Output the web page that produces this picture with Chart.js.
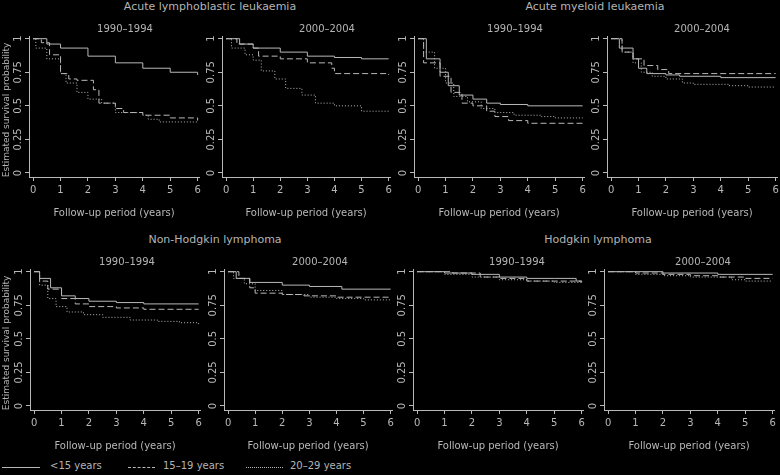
<!DOCTYPE html>
<html><head><meta charset="utf-8">
<script src="https://cdn.jsdelivr.net/npm/chart.js@4"></script>
<style>
body{margin:0;background:#000;width:780px;height:475px;position:relative;overflow:hidden;font-family:"DejaVu Sans",sans-serif;color:#b4b4b4}
canvas{position:absolute}
.t{position:absolute;font-size:11px;white-space:nowrap;transform:translateX(-50%)}
.s{position:absolute;font-size:10px;white-space:nowrap;transform:translateX(-50%)}
.yl{position:absolute;font-size:9px;white-space:nowrap;transform:translate(-50%,-50%) rotate(-90deg)}
.lg{position:absolute;top:467px;height:0}
.lt{position:absolute;top:460px;font-size:10px}
</style></head><body>
<script>
const xTicks=[0,1,2,3,4,5,6];
const yTicks=[0,0.25,0.5,0.75,1];
const seriesNames=['<15 years','15–19 years','20–29 years'];
// each: [x,y] step points, order: <15, 15-19, 20-29
const all90_u15=[[0,1],[0.5,0.96],[1,0.93],[2,0.87],[3,0.82],[4,0.78],[5,0.75],[6,0.73]];
const all90_1519=[[0,1],[0.3,0.97],[0.6,0.88],[1,0.74],[1.3,0.7],[1.6,0.69],[2.2,0.62],[2.4,0.52],[3,0.48],[3.3,0.45],[4,0.43],[5,0.41],[6,0.39]];
const all90_2029=[[0,1],[0.1,0.93],[0.5,0.85],[1,0.74],[1.2,0.67],[1.6,0.6],[2,0.55],[2.5,0.52],[3,0.45],[4,0.43],[4.2,0.4],[4.6,0.38],[6,0.38]];
const all00_u15=[[0,1],[0.5,0.96],[1,0.93],[2,0.9],[3,0.87],[4,0.86],[5,0.85],[6,0.85]];
const all00_1519=[[0,1],[0.4,0.96],[1,0.93],[1.2,0.87],[2,0.85],[3,0.82],[3.9,0.78],[4,0.74],[6,0.73]];
const all00_2029=[[0,1],[0.2,0.93],[0.7,0.88],[1,0.84],[1.3,0.76],[1.8,0.7],[2.2,0.63],[2.8,0.58],[3.3,0.52],[4,0.5],[5,0.46],[6,0.46]];
const aml90_u15=[[0,1],[0.3,0.85],[0.8,0.75],[1.1,0.65],[1.5,0.58],[2,0.55],[2.5,0.52],[3,0.51],[4,0.5],[6,0.5]];
const aml90_1519=[[0,1],[0.2,0.82],[0.8,0.72],[1.2,0.6],[1.6,0.52],[2,0.5],[2.5,0.46],[2.8,0.42],[3.3,0.39],[4,0.37],[6,0.37]];
const aml90_2029=[[0,1],[0.2,0.9],[0.6,0.78],[1,0.67],[1.3,0.57],[1.8,0.53],[2.3,0.48],[2.8,0.45],[3.5,0.43],[4.5,0.42],[5,0.41],[6,0.41]];
const aml00_u15=[[0,1],[0.3,0.93],[0.8,0.85],[1,0.78],[1.3,0.74],[2,0.73],[2.5,0.72],[4,0.71],[6,0.71]];
const aml00_1519=[[0,1],[0.4,0.9],[0.8,0.85],[1.2,0.8],[1.7,0.77],[2.1,0.74],[6,0.74]];
const aml00_2029=[[0,1],[0.4,0.9],[0.8,0.82],[1.1,0.75],[1.5,0.72],[2,0.7],[2.6,0.67],[3,0.66],[4.3,0.65],[5,0.64],[6,0.64]];
const nhl90_u15=[[0,1],[0.2,0.95],[0.6,0.88],[1,0.82],[1.5,0.8],[2,0.78],[3,0.77],[4,0.76],[6,0.76]];
const nhl90_1519=[[0,1],[0.2,0.93],[0.5,0.87],[1,0.8],[1.5,0.76],[2,0.74],[3,0.73],[4,0.72],[6,0.72]];
const nhl90_2029=[[0,1],[0.2,0.9],[0.5,0.8],[0.8,0.74],[1.2,0.7],[1.8,0.68],[2.5,0.66],[3.5,0.64],[4.5,0.63],[5.3,0.62],[6,0.61]];
const nhl00_u15=[[0,1],[0.3,0.95],[0.8,0.92],[2,0.9],[3,0.89],[4.2,0.87],[6,0.87]];
const nhl00_1519=[[0,1],[0.4,0.95],[0.8,0.88],[1,0.84],[2,0.83],[2.8,0.82],[4,0.81],[6,0.81]];
const nhl00_2029=[[0,1],[0.2,0.95],[0.6,0.91],[1,0.86],[2,0.83],[3,0.81],[4,0.8],[5,0.79],[6,0.79]];
const hl90_u15=[[0,1],[1,0.99],[2,0.98],[3,0.96],[4,0.95],[5,0.95],[5.8,0.93],[6,0.93]];
const hl90_1519=[[0,1],[1.3,0.99],[2.3,0.96],[3,0.95],[4,0.93],[5,0.93],[6,0.92]];
const hl90_2029=[[0,1],[1,0.98],[2,0.96],[3,0.94],[4,0.93],[5,0.92],[6,0.92]];
const hl00_u15=[[0,1],[2,0.99],[4,0.98],[6,0.98]];
const hl00_1519=[[0,1],[1,0.99],[2,0.98],[3,0.97],[4,0.96],[5,0.95],[6,0.95]];
const hl00_2029=[[0,1],[1,0.98],[2,0.97],[3,0.96],[4.5,0.94],[5,0.93],[6,0.93]];

const C='#b8b8b8';
const dashes=[[],[6,3],[1,2]];
const rotY={id:'rotY',afterDraw(ch){const s=ch.scales.y,c=ch.ctx;c.save();c.fillStyle=C;c.font='10px "DejaVu Sans"';c.textAlign='center';c.textBaseline='middle';
 yTicks.forEach(v=>{c.save();c.translate(s.right-11,s.getPixelForValue(v));c.rotate(-Math.PI/2);c.fillText(String(v),0,0);c.restore();});c.restore();}};
function panel(axisX,top,right,sets){
 const cv=document.createElement('canvas');const W=right-axisX+36,H=4+141+44;
 cv.width=W;cv.height=H;cv.style.left=(axisX-30)+'px';cv.style.top=(top-4)+'px';cv.style.width=W+'px';cv.style.height=H+'px';
 document.body.appendChild(cv);
 new Chart(cv,{type:'line',data:{datasets:sets.map((d,i)=>({label:seriesNames[i],data:d.map(p=>({x:p[0],y:p[1]})),stepped:true,borderColor:C,borderWidth:1,borderDash:dashes[i],pointRadius:0,fill:false}))},
 options:{responsive:false,animation:false,devicePixelRatio:1,layout:{padding:{top:4,right:6,left:0,bottom:0}},
  plugins:{legend:{display:false},tooltip:{enabled:false}},
  scales:{x:{type:'linear',min:-0.15,max:6.05,afterBuildTicks(s){s.ticks=xTicks.map(v=>({value:v}))},afterFit(s){s.height=44},
   grid:{drawOnChartArea:false,tickLength:4,color:C},border:{color:C},ticks:{color:C,font:{size:10,family:'DejaVu Sans'},padding:3,maxRotation:0},
   title:{display:true,text:'Follow-up period (years)',color:C,font:{size:10,family:'DejaVu Sans'},padding:{top:0,bottom:2}}},
  y:{min:-0.03,max:1.02,afterBuildTicks(s){s.ticks=yTicks.map(v=>({value:v}))},afterFit(s){s.width=30},
   grid:{drawOnChartArea:false,tickLength:4,color:C},border:{color:C},ticks:{display:false}}}},plugins:[rotY]});
}
panel(29,36,199,[all90_u15,all90_1519,all90_2029]);
panel(222,36,390,[all00_u15,all00_1519,all00_2029]);
panel(414,36,584,[aml90_u15,aml90_1519,aml90_2029]);
panel(607,36,777,[aml00_u15,aml00_1519,aml00_2029]);
panel(30,269,200,[nhl90_u15,nhl90_1519,nhl90_2029]);
panel(224,269,392,[nhl00_u15,nhl00_1519,nhl00_2029]);
panel(413,269,583,[hl90_u15,hl90_1519,hl90_2029]);
panel(604,269,774,[hl00_u15,hl00_1519,hl00_2029]);
function txt(cls,x,y,s){const d=document.createElement('div');d.className=cls;d.style.left=x+'px';d.style.top=y+'px';d.textContent=s;document.body.appendChild(d);}
txt('t',210,0,'Acute lymphoblastic leukaemia');txt('t',595,0,'Acute myeloid leukaemia');
txt('t',215,233,'Non-Hodgkin lymphoma');txt('t',598,233,'Hodgkin lymphoma');
[[125,23],[327,23],[515,23],[702,23],[127,256],[320,256],[517,256],[703,256]].forEach((p,i)=>txt('s',p[0],p[1],i%2?'2000–2004':'1990–1994'));
txt('yl',6,110,'Estimated survival probability');txt('yl',6,343,'Estimated survival probability');
</script>
<div class="lg" style="left:2px;width:38px;border-top:1px solid #b8b8b8"></div><div class="lt" style="left:50px">&lt;15 years</div>
<div class="lg" style="left:128px;width:27px;border-top:1px dashed #b8b8b8"></div><div class="lt" style="left:163px">15–19 years</div>
<div class="lg" style="left:246px;width:37px;border-top:1px dotted #b8b8b8"></div><div class="lt" style="left:290px">20–29 years</div>
</body></html>
